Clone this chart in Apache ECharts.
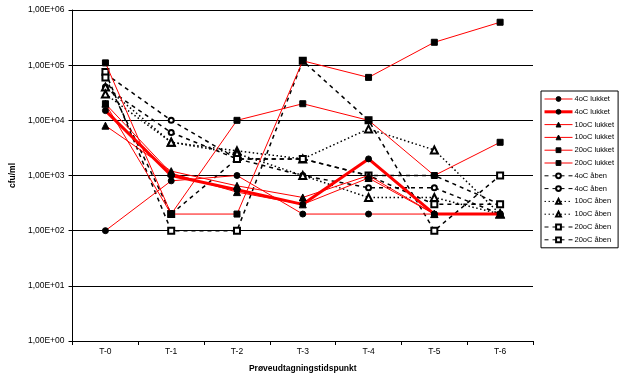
<!DOCTYPE html>
<html><head><meta charset="utf-8">
<script src="https://cdn.jsdelivr.net/npm/echarts@6/dist/echarts.min.js"></script>
<style>html,body{margin:0;padding:0;background:#fff}#c{width:625px;height:378px}</style>
</head><body><div id="c"></div>
<script>
const categories = ['T-0','T-1','T-2','T-3','T-4','T-5','T-6'];
const yTicks = [1,10,100,1000,10000,100000,1000000];
// lukket (red lines)
const l4a  = [100, 800, 1000, 200, 200, 200, 200];
const l4b  = [15000, 1000, 550, 300, 2000, 200, 200];
const l10a = [8000, 1200, 650, 400, 1000, 200, 200];
const l10b = [20000, 1100, 500, 300, 900, 200, 200];
const l20a = [110000, 200, 10000, 20000, 10000, 1000, 4000];
const l20b = [20000, 200, 200, 120000, 60000, 260000, 600000];
// åben (black lines)
const a4a  = [70000, 10000, 2000, 2000, 1000, 1000, 300];
const a4b  = [40000, 6000, 2000, 1000, 600, 600, 200];
const a10a = [40000, 4000, 2800, 2000, 7000, 2900, 200];
const a10b = [30000, 4000, 2500, 1000, 400, 400, 200];
const a20a = [75000, 100, 100, 120000, 10000, 100, 1000];
const a20b = [60000, 200, 2000, 2000, 1000, 300, 300];

const FONT = 'Liberation Sans, Arial, sans-serif';
function red(name, data, symbol, width, size) {
  return {name, type:'line', data, symbol, symbolSize: size,
    lineStyle:{color:'#ff0000', width: width},
    itemStyle:{color:'#000', borderColor:'#000', borderWidth:1},
    emphasis:{disabled:true}, z: 3};
}
function black(name, data, symbol, dash, size) {
  return {name, type:'line', data, symbol, symbolSize: size,
    lineStyle:{color:'#000', width:1.5, type: dash},
    itemStyle:{color:'#000', borderColor:'#000', borderWidth:1},
    emphasis:{disabled:true}, z: 2};
}
const series = [
  red('4oC lukket', l4a, 'circle', 1, 6),
  red('4oC lukket ', l4b, 'circle', 3, 6),
  red('10oC lukket', l10a, 'triangle', 1, 7),
  red('10oC lukket ', l10b, 'triangle', 1, 7),
  red('20oC lukket', l20a, 'rect', 1, 6),
  red('20oC lukket ', l20b, 'rect', 1, 6),
  black('4oC åben', a4a, 'emptyCircle', [4,4], 5),
  black('4oC åben ', a4b, 'emptyCircle', [4,4], 5),
  black('10oC åben', a10a, 'emptyTriangle', [1.5,2.5], 7),
  black('10oC åben ', a10b, 'emptyTriangle', [1.5,2.5], 7),
  black('20oC åben', a20a, 'emptyRect', [4,4], 6),
  black('20oC åben ', a20b, 'emptyRect', [4,4], 6)
];
const legendData = series.map(s => ({
  name: s.name,
  lineStyle: {width: s.lineStyle.width === 3 ? 3 : 1, color: s.lineStyle.color, type: s.lineStyle.type || 'solid'},
  itemStyle: {borderWidth: 1}
}));
const chart = echarts.init(document.getElementById('c'), null, {renderer:'canvas'});
chart.setOption({
  animation:false,
  backgroundColor:'#fff',
  textStyle:{fontFamily:FONT},
  grid:{left:62, right:92, top:10, bottom:33},
  legend:{
    data: legendData,
    orient:'vertical', left:541, top:91,
    itemWidth:28, itemHeight:6, itemGap:2.8,
    padding:[3,4,3,2],
    borderColor:'#000', borderWidth:1,
    backgroundColor:'#fff',
    textStyle:{fontSize:7.5, color:'#000', fontFamily:FONT, lineHeight:10, padding:[0,0,0,-3]},
    formatter: n => n.trim(),
    selectedMode:false
  },
  xAxis:{
    type:'category', data:categories, boundaryGap:true,
    axisLine:{lineStyle:{color:'#000', width:1}},
    axisTick:{show:true, length:4, lineStyle:{color:'#000'}},
    axisLabel:{fontSize:8.5, color:'#000', margin:6, fontFamily:FONT},
    name:'Prøveudtagningstidspunkt', nameLocation:'middle', nameGap:23,
    nameTextStyle:{fontSize:8.5, fontWeight:'bold', color:'#000', fontFamily:FONT}
  },
  yAxis:{
    type:'log', logBase:10, min:yTicks[0], max:yTicks[yTicks.length-1],
    axisLine:{show:true, lineStyle:{color:'#000', width:1}},
    axisTick:{show:true, length:4, lineStyle:{color:'#000'}},
    splitLine:{show:true, lineStyle:{color:'#000', width:1}},
    axisLabel:{fontSize:8.5, color:'#000', margin:8, fontFamily:FONT,
      formatter: v => { const e = Math.round(Math.log10(v)); return '1,00E+' + (e<10?'0':'') + e; }},
    name:'cfu/ml', nameLocation:'middle', nameGap:46, nameRotate:90,
    nameTextStyle:{fontSize:8.5, fontWeight:'bold', color:'#000', fontFamily:FONT}
  },
  series
});
</script></body></html>
